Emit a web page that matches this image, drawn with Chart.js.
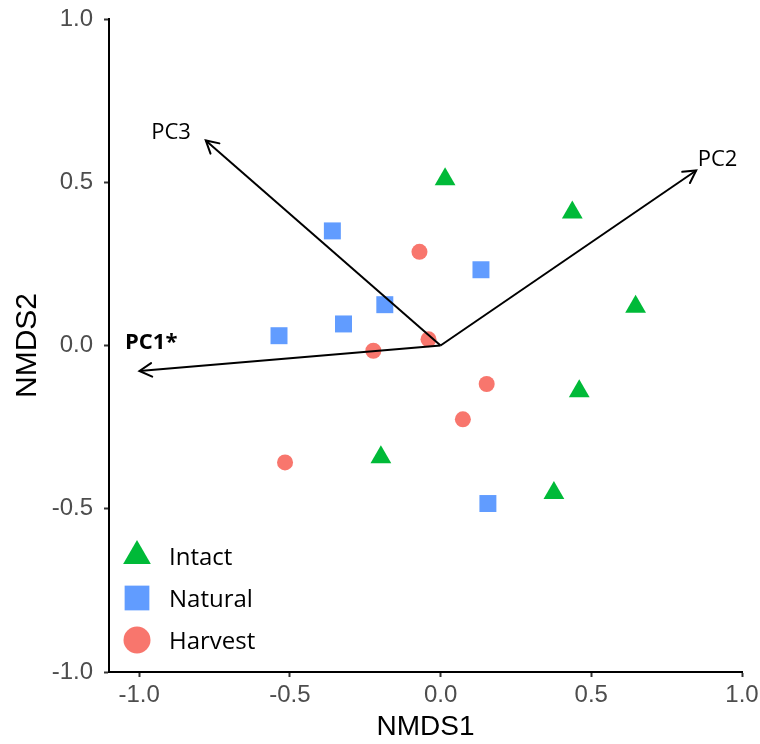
<!DOCTYPE html>
<html>
<head>
<meta charset="utf-8">
<script src="https://cdn.jsdelivr.net/npm/chart.js@4.4.0/dist/chart.umd.min.js"></script>
<style>
  html, body { margin: 0; padding: 0; background: #ffffff; }
  #wrap { width: 760px; height: 744px; position: relative; }
</style>
</head>
<body>
<div id="wrap"><canvas id="c"></canvas></div>
<script>
// ---- data ----
const seriesNames = ['Intact', 'Natural', 'Harvest'];
const intactX  = [0.015, 0.437, 0.647, 0.460, -0.198, 0.376];
const intactY  = [0.509, 0.407, 0.119, -0.140, -0.342, -0.452];
const naturalX = [-0.359, 0.134, -0.185, -0.322, -0.536, 0.157];
const naturalY = [0.351, 0.232, 0.125, 0.066, 0.030, -0.484];
const harvestX = [-0.070, -0.040, -0.223, 0.153, 0.074, -0.516];
const harvestY = [0.287, 0.019, -0.016, -0.118, -0.226, -0.358];

const arrowNames = ['PC1*', 'PC2', 'PC3'];
const arrowX = [-0.999, 0.848, -0.779];
const arrowY = [-0.078, 0.536, 0.628];
const labelX = [-0.960, 0.919, -0.894];
const labelY = [0.008, 0.568, 0.652];

const xTickValues = [-1.0, -0.5, 0.0, 0.5, 1.0];
const xTickLabels = ['-1.0', '-0.5', '0.0', '0.5', '1.0'];
const yTickValues = [-1.0, -0.5, 0.0, 0.5, 1.0];
const yTickLabels = ['-1.0', '-0.5', '0.0', '0.5', '1.0'];

// ---- styles ----
const seriesColors = ['#00BA38', '#619CFF', '#F8766D'];
const seriesStyles = ['triangle', 'rect', 'circle'];
const seriesRadius = [12, 12, 8];

const toPts = (xs, ys) => xs.map((x, i) => ({ x: x, y: ys[i] }));
const seriesData = [toPts(intactX, intactY), toPts(naturalX, naturalY), toPts(harvestX, harvestY)];

const datasets = [];
arrowNames.forEach((name, i) => {
  datasets.push({
    label: name,
    type: 'line',
    data: [{ x: 0, y: 0 }, { x: arrowX[i], y: arrowY[i] }],
    borderColor: '#000000',
    borderWidth: 2,
    pointRadius: 0,
    showLine: true,
    fill: false,
    order: 0,
    isArrow: true,
    arrowLabel: { x: labelX[i], y: labelY[i], bold: name.indexOf('*') >= 0 }
  });
});
seriesNames.forEach((name, i) => {
  datasets.push({
    label: name,
    data: seriesData[i],
    pointStyle: seriesStyles[i],
    pointRadius: seriesRadius[i],
    pointHoverRadius: seriesRadius[i],
    backgroundColor: seriesColors[i],
    borderColor: seriesColors[i],
    pointBorderWidth: 0,
    showLine: false,
    order: 1
  });
});

const arrowPlugin = {
  id: 'arrows',
  afterDatasetsDraw(chart) {
    const ctx = chart.ctx;
    const xs = chart.scales.x, ys = chart.scales.y;
    chart.data.datasets.forEach((ds, i) => {
      if (!ds.isArrow) return;
      const meta = chart.getDatasetMeta(i);
      const p0 = meta.data[0], p1 = meta.data[1];
      const ang = Math.atan2(p1.y - p0.y, p1.x - p0.x);
      const len = 14, spread = Math.PI / 6.2;
      ctx.save();
      ctx.strokeStyle = '#000';
      ctx.lineWidth = 2;
      ctx.lineCap = 'round';
      ctx.beginPath();
      ctx.moveTo(p1.x - len * Math.cos(ang - spread), p1.y - len * Math.sin(ang - spread));
      ctx.lineTo(p1.x, p1.y);
      ctx.lineTo(p1.x - len * Math.cos(ang + spread), p1.y - len * Math.sin(ang + spread));
      ctx.stroke();
      // label
      const lb = ds.arrowLabel;
      ctx.fillStyle = '#000';
      ctx.font = (lb.bold ? 'bold ' : '') + '22px "Open Sans", sans-serif';
      ctx.textAlign = 'center';
      ctx.textBaseline = 'middle';
      ctx.fillText(ds.label, xs.getPixelForValue(lb.x), ys.getPixelForValue(lb.y));
      ctx.restore();
    });
  }
};

const legendPlugin = {
  id: 'insideLegend',
  afterDraw(chart) {
    const ctx = chart.ctx;
    const area = chart.chartArea;
    const mx = area.left + 28;
    const tx = area.left + 60;
    const sizes = [16, 17.5, 13.5];
    ctx.save();
    seriesNames.forEach((name, i) => {
      const cy = area.bottom - 116 + i * 42;
      ctx.fillStyle = seriesColors[i];
      ctx.beginPath();
      const r = sizes[i];
      if (seriesStyles[i] === 'triangle') {
        ctx.moveTo(mx, cy - r);
        ctx.lineTo(mx + r * 0.866, cy + r * 0.5);
        ctx.lineTo(mx - r * 0.866, cy + r * 0.5);
        ctx.closePath();
      } else if (seriesStyles[i] === 'rect') {
        const h = r * Math.SQRT1_2;
        ctx.rect(mx - h, cy - h, 2 * h, 2 * h);
      } else {
        ctx.arc(mx, cy, r, 0, Math.PI * 2);
      }
      ctx.fill();
      ctx.fillStyle = '#000';
      ctx.font = '24px "Open Sans", sans-serif';
      ctx.textAlign = 'left';
      ctx.textBaseline = 'middle';
      ctx.fillText(name, tx, cy + 2);
    });
    ctx.restore();
  }
};

new Chart(document.getElementById('c'), {
  type: 'scatter',
  data: { datasets: datasets },
  options: {
    responsive: true,
    maintainAspectRatio: false,
    animation: false,
    events: [],
    layout: { padding: { top: 19, right: 18, bottom: 0, left: 0 } },
    plugins: {
      legend: { display: false },
      tooltip: { enabled: false }
    },
    scales: {
      x: {
        type: 'linear',
        min: -1.1,
        max: 1.0,
        afterBuildTicks: (s) => { s.ticks = xTickValues.map(v => ({ value: v })); },
        afterFit: (s) => { s.height = 72; s.paddingLeft = 0; s.paddingRight = 0; },
        ticks: {
          callback: (v) => { const k = xTickValues.indexOf(v); return k >= 0 ? xTickLabels[k] : ''; },
          color: '#4D4D4D',
          font: { family: '"Liberation Sans", Arial, sans-serif', size: 24 },
          padding: 4,
          maxRotation: 0,
          autoSkip: false
        },
        grid: { drawOnChartArea: false, drawTicks: true, tickLength: 5, tickColor: '#333333', tickWidth: 2 },
        border: { display: true, color: '#000000', width: 2 },
        title: {
          display: true,
          text: 'NMDS1',
          color: '#000000',
          font: { family: '"Liberation Sans", Arial, sans-serif', size: 28 },
          padding: { top: 0, bottom: 0 }
        }
      },
      y: {
        type: 'linear',
        min: -1.0,
        max: 1.0,
        afterBuildTicks: (s) => { s.ticks = yTickValues.map(v => ({ value: v })); },
        afterFit: (s) => { s.width = 109; s.paddingTop = 0; s.paddingBottom = 0; },
        ticks: {
          callback: (v) => { const k = yTickValues.indexOf(v); return k >= 0 ? yTickLabels[k] : ''; },
          color: '#4D4D4D',
          font: { family: '"Liberation Sans", Arial, sans-serif', size: 24 },
          padding: 11,
          autoSkip: false
        },
        grid: { drawOnChartArea: false, drawTicks: true, tickLength: 5, tickColor: '#333333', tickWidth: 2 },
        border: { display: true, color: '#000000', width: 2 },
        title: {
          display: true,
          text: 'NMDS2',
          color: '#000000',
          font: { family: '"Liberation Sans", Arial, sans-serif', size: 30 },
          padding: { top: 10, bottom: 0 }
        }
      }
    }
  },
  plugins: [arrowPlugin, legendPlugin]
});
</script>
</body>
</html>
